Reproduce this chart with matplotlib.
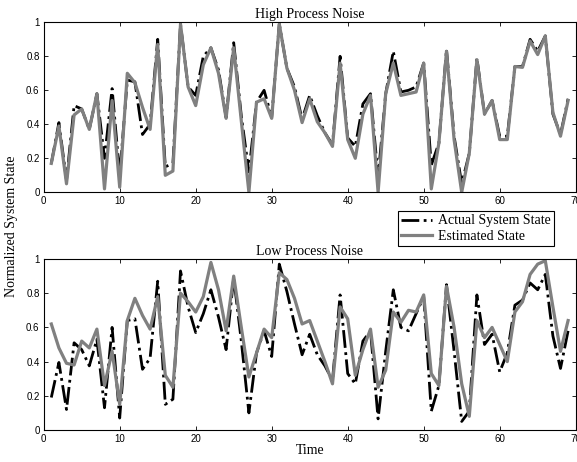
import matplotlib
matplotlib.use("Agg")
import matplotlib.pyplot as plt
import numpy as np

time = list(range(1, 70))

high_actual = [0.17, 0.41, 0.07, 0.51, 0.49, 0.37, 0.58, 0.20, 0.61, 0.10,
               0.66, 0.65, 0.34, 0.40, 0.90, 0.15, 0.17, 0.99, 0.62, 0.57,
               0.80, 0.85, 0.72, 0.44, 0.88, 0.45, 0.12, 0.53, 0.60, 0.44,
               0.99, 0.73, 0.62, 0.43, 0.57, 0.45, 0.35, 0.28, 0.80, 0.32,
               0.27, 0.52, 0.58, 0.09, 0.58, 0.83, 0.59, 0.60, 0.62, 0.76,
               0.16, 0.29, 0.84, 0.33, 0.05, 0.23, 0.79, 0.46, 0.54, 0.33,
               0.33, 0.74, 0.74, 0.90, 0.83, 0.92, 0.46, 0.34, 0.55]
high_est = [0.17, 0.39, 0.05, 0.455, 0.49, 0.37, 0.58, 0.02, 0.54, 0.03,
            0.70, 0.645, 0.50, 0.37, 0.87, 0.10, 0.125, 0.99, 0.62, 0.51,
            0.75, 0.85, 0.70, 0.435, 0.85, 0.42, 0.0, 0.53, 0.55, 0.435,
            0.99, 0.73, 0.60, 0.41, 0.55, 0.415, 0.35, 0.27, 0.76, 0.31,
            0.20, 0.46, 0.57, 0.0, 0.58, 0.76, 0.57, 0.58, 0.59, 0.76,
            0.02, 0.29, 0.83, 0.31, 0.0, 0.23, 0.78, 0.46, 0.54, 0.31,
            0.31, 0.74, 0.735, 0.89, 0.81, 0.92, 0.47, 0.33, 0.54]

low_actual = [0.19, 0.395, 0.12, 0.51, 0.47, 0.375, 0.53, 0.13, 0.60, 0.07,
              0.64, 0.65, 0.355, 0.42, 0.87, 0.15, 0.18, 0.93, 0.72, 0.57,
              0.68, 0.82, 0.66, 0.47, 0.89, 0.52, 0.10, 0.45, 0.58, 0.43,
              0.97, 0.81, 0.62, 0.44, 0.56, 0.44, 0.375, 0.29, 0.79, 0.33,
              0.27, 0.52, 0.58, 0.065, 0.46, 0.82, 0.60, 0.58, 0.68, 0.78,
              0.11, 0.26, 0.85, 0.46, 0.05, 0.11, 0.79, 0.50, 0.56, 0.34,
              0.45, 0.73, 0.76, 0.86, 0.82, 0.91, 0.55, 0.36, 0.58]
low_est = [0.62, 0.48, 0.39, 0.38, 0.52, 0.48, 0.59, 0.26, 0.46, 0.15,
           0.64, 0.77, 0.67, 0.59, 0.78, 0.32, 0.25, 0.80, 0.75, 0.69,
           0.78, 0.98, 0.82, 0.58, 0.90, 0.60, 0.31, 0.45, 0.59, 0.54,
           0.92, 0.88, 0.77, 0.62, 0.64, 0.52, 0.40, 0.27, 0.72, 0.65,
           0.32, 0.47, 0.59, 0.25, 0.35, 0.69, 0.63, 0.70, 0.69, 0.79,
           0.33, 0.26, 0.84, 0.60, 0.27, 0.08, 0.64, 0.54, 0.60, 0.50,
           0.40, 0.69, 0.75, 0.91, 0.97, 0.99, 0.72, 0.46, 0.64]

xticks = [0, 10, 20, 30, 40, 50, 60, 70]
yticks = [0, 0.2, 0.4, 0.6, 0.8, 1.0]
ytick_labels = ["0", "0.2", "0.4", "0.6", "0.8", "1"]

serif = ["Liberation Serif", "DejaVu Serif"]
sans = ["Liberation Sans", "DejaVu Sans"]

W, H = 577, 462
fig = plt.figure(figsize=(W / 100, H / 100), dpi=100)

def px_axes(x0, y0, x1, y1):
    return fig.add_axes([x0 / W, 1 - y1 / H, (x1 - x0) / W, (y1 - y0) / H])

ax1 = px_axes(43.7, 22.3, 575.7, 192.3)
ax2 = px_axes(43.7, 259, 575.7, 430)

for ax, act, est, title in [(ax1, high_actual, high_est, "High Process Noise"),
                            (ax2, low_actual, low_est, "Low Process Noise")]:
    la, = ax.plot(time, act, color="black", linestyle="-.", linewidth=2.0,
                  label="Actual System State")
    le, = ax.plot(time, est, color="#808080", linestyle="-", linewidth=2.3,
                  label="Estimated State")
    ax.set_xlim(0, 70)
    ax.set_ylim(0, 1)
    ax.set_xticks(xticks)
    ax.set_xticklabels([str(v) for v in xticks], fontfamily=sans, fontsize=7)
    ax.set_yticks(yticks)
    ax.set_yticklabels(ytick_labels, fontfamily=sans, fontsize=7)
    ax.tick_params(direction="in", top=True, right=True, length=3, width=0.6, pad=3)
    for s in ax.spines.values():
        s.set_linewidth(0.8)
    ax.set_title(title, fontfamily=serif, fontsize=10, pad=3)

ax2.set_xlabel("Time", fontfamily=serif, fontsize=10, labelpad=0)
fig.text(12 / W, 1 - 226 / H, "Normalized System State", rotation=90,
         ha="center", va="center", fontfamily=serif, fontsize=10)

leg = fig.legend(handles=[la, le], loc="upper left",
                 bbox_to_anchor=(398 / W, 1 - 211 / H),
                 prop={"family": serif, "size": 10}, frameon=True,
                 fancybox=False, edgecolor="black", framealpha=1,
                 handlelength=2.2, handletextpad=0.4, borderpad=0.25,
                 labelspacing=0.15, borderaxespad=0)
leg.get_frame().set_linewidth(0.8)

fig.savefig("out.png", dpi=100)
